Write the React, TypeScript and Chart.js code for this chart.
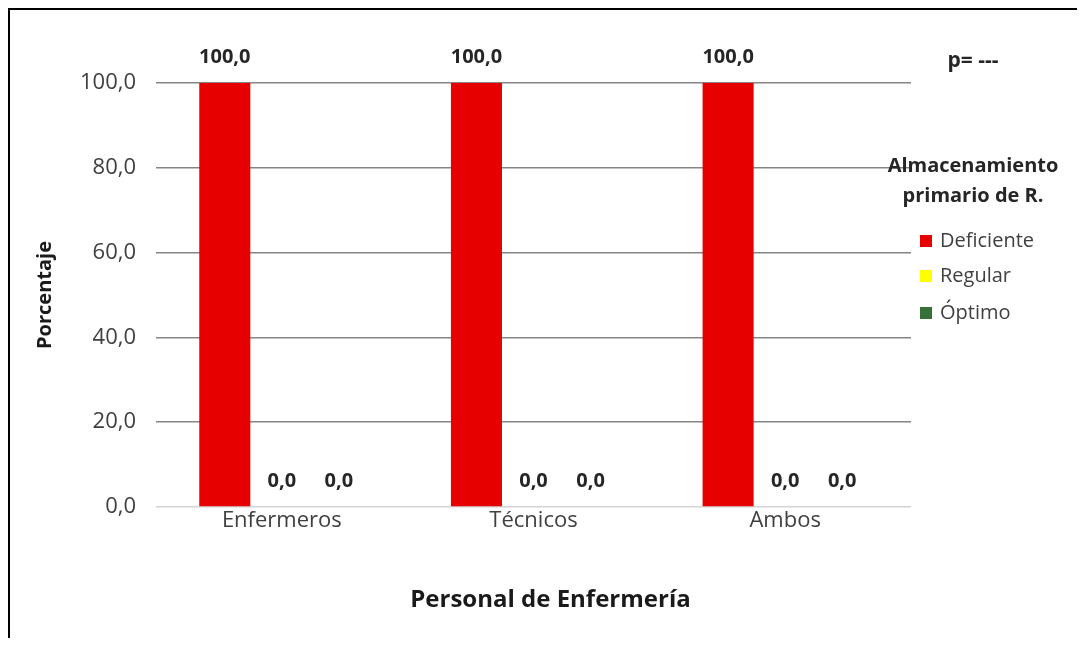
import React, { useEffect, useRef } from "react";
import { Chart, registerables } from "chart.js";

Chart.register(...registerables);

const categories = ["Enfermeros", "Técnicos", "Ambos"];
const seriesNames = ["Deficiente", "Regular", "Óptimo"];
const deficiente = [100, 100, 100];
const regular = [0, 0, 0];
const optimo = [0, 0, 0];
const seriesColors = ["#e60000", "#ffff00", "#38703a"];
const yTicks = [0, 20, 40, 60, 80, 100];
const legendTitle = ["Almacenamiento", "primario de R."];
const pValueText = "p= ---";
const xTitle = "Personal de Enfermería";

const FONT = "'Open Sans', sans-serif";
const fmt = (v: number) => v.toFixed(1).replace(".", ",");

// Value labels above each bar
const valueLabels = {
  id: "valueLabels",
  afterDatasetsDraw(chart: any) {
    const { ctx } = chart;
    ctx.save();
    ctx.font = `bold 20px ${FONT}`;
    ctx.fillStyle = "#262626";
    ctx.textAlign = "center";
    ctx.textBaseline = "middle";
    chart.data.datasets.forEach((ds: any, i: number) => {
      const meta = chart.getDatasetMeta(i);
      meta.data.forEach((bar: any, j: number) => {
        ctx.fillText(fmt(ds.data[j]), bar.x, bar.y - 26);
      });
    });
    ctx.restore();
  },
};

// Side legend with title, p-value note and the centred category-axis title
const sideLegend = {
  id: "sideLegend",
  afterDraw(chart: any) {
    const { ctx, chartArea } = chart;
    const cx = chartArea.right + 62;
    const top = chartArea.top;
    ctx.save();
    ctx.textBaseline = "middle";
    ctx.fillStyle = "#262626";
    ctx.textAlign = "center";
    ctx.font = `bold 21px ${FONT}`;
    ctx.fillText(pValueText, cx, top - 22);
    ctx.font = `bold 20px ${FONT}`;
    ctx.fillText(legendTitle[0], cx, top + 83);
    ctx.fillText(legendTitle[1], cx, top + 113);

    ctx.font = `bold 24px ${FONT}`;
    ctx.fillStyle = "#1a1a1a";
    ctx.fillText(xTitle, chart.width / 2 + 3, chartArea.bottom + 93);

    ctx.font = `20px ${FONT}`;
    ctx.textAlign = "left";
    const rows = [158, 193, 230];
    chart.data.datasets.forEach((ds: any, i: number) => {
      const y = top + rows[i];
      ctx.fillStyle = ds.backgroundColor;
      ctx.fillRect(chartArea.right + 9, y - 6, 12, 12);
      ctx.fillStyle = "#404040";
      ctx.fillText(ds.label, chartArea.right + 29, y);
    });
    ctx.restore();
  },
};

export default function App() {
  const canvasRef = useRef<HTMLCanvasElement>(null);

  useEffect(() => {
    if (!canvasRef.current) return;
    const chart = new Chart(canvasRef.current, {
      type: "bar",
      data: {
        labels: categories,
        datasets: [deficiente, regular, optimo].map((d, i) => ({
          label: seriesNames[i],
          data: d,
          backgroundColor: seriesColors[i],
          barPercentage: 0.895,
          categoryPercentage: 0.68,
        })),
      },
      options: {
        responsive: false,
        animation: false,
        layout: { padding: { top: 73, right: 174, left: 0, bottom: 0 } },
        plugins: {
          legend: { display: false },
          tooltip: { enabled: false },
        },
        scales: {
          x: {
            grid: { display: false, drawTicks: false },
            border: { display: false },
            ticks: {
              color: "#404040",
              font: { family: FONT, size: 22 },
              padding: 1,
            },
            afterFit: (scale: any) => {
              scale.height = 131;
            },
          },
          y: {
            min: 0,
            max: 100,
            afterBuildTicks: (scale: any) => {
              scale.ticks = yTicks.map((v) => ({ value: v }));
            },
            ticks: {
              color: "#404040",
              font: { family: FONT, size: 22 },
              padding: 20,
              callback: (v: any) => fmt(Number(v)),
            },
            grid: {
              drawTicks: false,
              color: (c: any) => (c.tick && c.tick.value === 0 ? "#d4d4d4" : "#858585"),
              lineWidth: 1.5,
            },
            border: { display: false },
            title: {
              display: true,
              text: "Porcentaje",
              color: "#1a1a1a",
              font: { family: FONT, size: 20, weight: "bold" },
              padding: { top: 23, bottom: 0 },
            },
            afterFit: (scale: any) => {
              scale.width = 146;
            },
          },
        },
      },
      plugins: [valueLabels, sideLegend],
    });
    return () => chart.destroy();
  }, []);

  return (
    <div
      style={{
        width: 1075,
        height: 628,
        borderTop: "2px solid #000",
        borderLeft: "2px solid #000",
        background: "#fff",
      }}
    >
      <canvas ref={canvasRef} width={1075} height={628} style={{ display: "block" }} />
    </div>
  );
}
